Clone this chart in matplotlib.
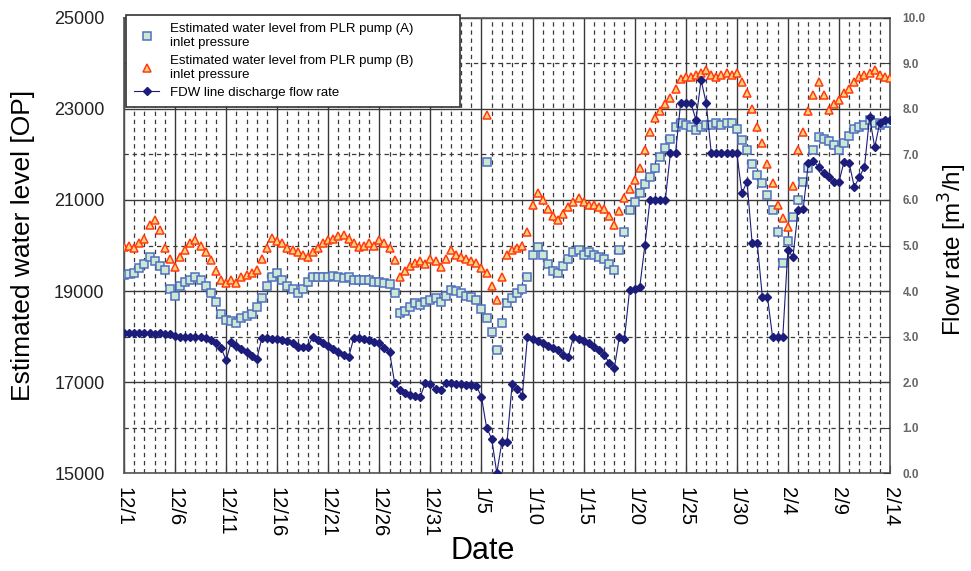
import numpy as np
import matplotlib
matplotlib.use('Agg')
import matplotlib.pyplot as plt
import matplotlib.transforms as mtransforms
from matplotlib.ticker import MultipleLocator, FixedLocator, FormatStrFormatter
from matplotlib.lines import Line2D

plt.rcParams['font.family'] = ['Liberation Sans', 'DejaVu Sans']

# x axis: days counted from 12/1, one sample every half day
date_labels = ['12/1', '12/6', '12/11', '12/16', '12/21', '12/26', '12/31', '1/5',
               '1/10', '1/15', '1/20', '1/25', '1/30', '2/4', '2/9', '2/14']
label_days = [0, 5, 10, 15, 20, 25, 30, 35, 40, 45, 50, 55, 60, 65, 70, 75]
day = np.arange(0, 75.5, 0.5)
level_ticks = [15000, 17000, 19000, 21000, 23000, 25000]

# estimated water level from PLR pump (A) inlet pressure
level_a = [
    19350, 19380, 19400, 19500, 19600, 19750, 19650, 19550, 19460, 19050,
    18900, 19100, 19200, 19250, 19300, 19250, 19100, 18960, 18750, 18500,
    18360, 18350, 18300, 18400, 18450, 18500, 18650, 18850, 19100, 19300,
    19400, 19250, 19100, 19050, 18960, 19050, 19200, 19300, 19310, 19300,
    19310, 19320, 19300, 19280, 19300, 19250, 19250, 19240, 19250, 19200,
    19200, 19180, 19150, 18960, 18520, 18550, 18650, 18740, 18700, 18750,
    18800, 18850, 18750, 18900, 19020, 19000, 18950, 18900, 18870, 18800,
    18600, 18400, 18100, 17700, 18300, 18740, 18850, 18950, 19050, 19300,
    19800, 19970, 19800, 19600, 19450, 19400, 19550, 19700, 19850, 19900,
    19800, 19850, 19800, 19750, 19700, 19600, 19460, 19900, 20300, 20780,
    20950, 21150, 21350, 21500, 21700, 21950, 22150, 22350, 22600, 22700,
    22650, 22600, 22540, 22600, 22650, 22650, 22700, 22650, 22700, 22700,
    22550, 22320, 22100, 21800, 21550, 21370, 21100, 20780, 20300, 19620,
    20100, 20630, 21000, 21400, 21700, 22100, 22390, 22350, 22300, 22200,
    22100, 22250, 22400, 22550, 22600, 22650, 22760, 22700, 22650, 22700,
    22700]

# estimated water level from PLR pump (B) inlet pressure
level_b = [
    19970, 20000, 19950, 20050, 20150, 20450, 20560, 20350, 19950, 19700,
    19530, 19750, 19900, 20050, 20120, 20000, 19850, 19680, 19450, 19250,
    19180, 19250, 19180, 19300, 19350, 19400, 19460, 19700, 19950, 20160,
    20100, 20050, 19950, 19900, 19850, 19800, 19750, 19850, 19950, 20050,
    20120, 20150, 20200, 20230, 20150, 20050, 19970, 20000, 20050, 20000,
    20120, 20050, 19950, 19680, 19310, 19450, 19550, 19620, 19650, 19600,
    19700, 19650, 19530, 19700, 19900, 19800, 19750, 19700, 19650, 19620,
    19500, 19400, 19100, 18800, 19300, 19800, 19900, 19950, 20000, 20300,
    20900, 21150, 21000, 20800, 20650, 20560, 20700, 20850, 20950, 21040,
    20950, 20900, 20900, 20850, 20800, 20650, 20450, 20750, 21050, 21250,
    21450, 21700, 22100, 22500, 22800, 22950, 23100, 23250, 23450, 23650,
    23700, 23700, 23750, 23800, 23860, 23750, 23700, 23750, 23800, 23750,
    23800, 23600, 23350, 23000, 22600, 22250, 21800, 21370, 20900, 20600,
    20400, 21300, 22100, 22500, 22950, 23300, 23600, 23300, 22980, 23100,
    23200, 23350, 23450, 23600, 23700, 23750, 23800, 23860, 23750, 23700,
    23680]

# FDW line discharge flow rate [m3/h]
flow = [
    3.08, 3.08, 3.07, 3.08, 3.07, 3.07, 3.06, 3.07, 3.06, 3.05,
    3.02, 3.00, 3.00, 3.00, 2.99, 2.98, 2.97, 2.92, 2.85, 2.75,
    2.48, 2.88, 2.80, 2.72, 2.65, 2.58, 2.50, 2.97, 2.96, 2.95,
    2.95, 2.93, 2.90, 2.85, 2.78, 2.77, 2.78, 2.99, 2.93, 2.85,
    2.80, 2.72, 2.65, 2.60, 2.55, 2.97, 2.96, 2.95, 2.92, 2.88,
    2.85, 2.75, 2.66, 1.98, 1.82, 1.75, 1.72, 1.70, 1.67, 1.98,
    1.95, 1.85, 1.82, 1.98, 1.97, 1.95, 1.95, 1.93, 1.93, 1.92,
    1.67, 1.00, 0.75, 0.00, 0.68, 0.68, 1.95, 1.85, 1.70, 2.99,
    2.95, 2.90, 2.85, 2.80, 2.75, 2.70, 2.60, 2.55, 2.99, 2.95,
    2.90, 2.85, 2.78, 2.70, 2.60, 2.42, 2.30, 2.99, 2.95, 4.02,
    4.05, 4.09, 5.01, 6.00, 6.00, 6.00, 6.01, 7.03, 7.03, 8.13,
    8.13, 8.13, 7.76, 8.64, 8.13, 7.03, 7.03, 7.03, 7.03, 7.03,
    7.03, 6.15, 6.40, 5.05, 5.05, 3.87, 3.87, 2.99, 2.99, 2.99,
    4.90, 4.75, 5.78, 5.80, 6.81, 6.85, 6.73, 6.60, 6.50, 6.40,
    6.40, 6.84, 6.81, 6.29, 6.50, 6.73, 7.82, 7.16, 7.70, 7.76,
    7.76]

# two stray readings on 1/5
outlier_day = [35.5]
outlier_a = [21830]
outlier_b = [22870]

blue_edge = '#4f6fc0'
blue_face = '#cde8d2'
red_edge = '#ff3b10'
red_face = '#ffd27a'
navy = '#1c1c7a'
grid_c = '#3a3a3a'

sq = dict(ls='none', marker='s', ms=6.4, mec=blue_edge, mfc=blue_face, mew=1.1)
tri = dict(ls='none', marker='^', ms=5.8, mec=red_edge, mfc=red_face, mew=1.1)
dia = dict(color=navy, lw=0.8, marker='D', ms=4.4, mfc=navy, mec=navy)

fig = plt.figure(figsize=(9.71, 5.71), dpi=100)
ax = fig.add_axes([0.1277, 0.1716, 0.7889, 0.7969])

ax.plot(day, level_a, zorder=3, **sq)
ax.plot(outlier_day, outlier_a, zorder=3, **sq)
ax.plot(day, level_b, zorder=4, **tri)
ax.plot(outlier_day, outlier_b, zorder=4, **tri)

ax.set_xlim(0, 75)
ax.set_ylim(15000, 25000)
ax.xaxis.set_major_locator(FixedLocator(label_days))
ax.set_xticklabels(date_labels, rotation=270, fontsize=14.5)
shift = mtransforms.ScaledTranslation(-3 / 72, 0, fig.dpi_scale_trans)
for lab in ax.get_xticklabels():
    lab.set_transform(lab.get_transform() + shift)
ax.xaxis.set_minor_locator(MultipleLocator(1))
ax.yaxis.set_major_locator(FixedLocator(level_ticks))
ax.yaxis.set_minor_locator(MultipleLocator(1000))
ax.tick_params(axis='y', which='both', length=0, labelsize=13, pad=14, labelcolor='#222222')
ax.tick_params(axis='x', which='major', direction='in', length=6, pad=10, color=grid_c)
ax.tick_params(axis='x', which='minor', direction='in', length=3, color=grid_c)

ax.grid(True, which='major', color=grid_c, lw=1.0, ls='-')
ax.grid(True, which='minor', color=grid_c, lw=0.9, ls=(0, (3.5, 3)))
ax.set_axisbelow(True)
for s in ax.spines.values():
    s.set_color('#555555')
    s.set_linewidth(1.2)

ax.set_ylabel('Estimated water level [OP]', fontsize=19, va='center')
ax.yaxis.set_label_coords(-0.132, 0.5)
ax.set_xlabel('Date', fontsize=22, va='center')
ax.xaxis.set_label_coords(0.468, -0.172)

ax2 = ax.twinx()
ax2.plot(day, flow, zorder=5, **dia)
ax2.set_ylim(0, 10)
ax2.yaxis.set_major_locator(MultipleLocator(1))
ax2.yaxis.set_major_formatter(FormatStrFormatter('%.1f'))
ax2.tick_params(axis='y', direction='in', length=5, color=grid_c, labelsize=8.5,
                labelcolor='#666666', pad=9)
for lab in ax2.get_yticklabels():
    lab.set_fontweight('bold')
ax2.set_ylabel('Flow rate [m$^3$/h]', fontsize=17.5, va='center')
ax2.yaxis.set_label_coords(1.082, 0.49)
for s in ax2.spines.values():
    s.set_visible(False)

handles = [Line2D([], [], **sq), Line2D([], [], **tri), Line2D([], [], **dia)]
labels = [
    'Estimated water level from PLR pump (A)\ninlet pressure',
    'Estimated water level from PLR pump (B)\ninlet pressure',
    'FDW line discharge flow rate',
]
leg = ax2.legend(handles, labels, loc='upper left', mode='expand',
                 bbox_to_anchor=(0.003, 0.0, 0.436, 1.006),
                 borderaxespad=0.0, fontsize=9.5, frameon=True, fancybox=False,
                 edgecolor='#333333', framealpha=1.0, labelspacing=0.45,
                 handlelength=1.9, handletextpad=0.8, borderpad=0.6)
leg.get_frame().set_linewidth(1.2)
leg.set_zorder(10)

fig.savefig('out.png', dpi=100)
